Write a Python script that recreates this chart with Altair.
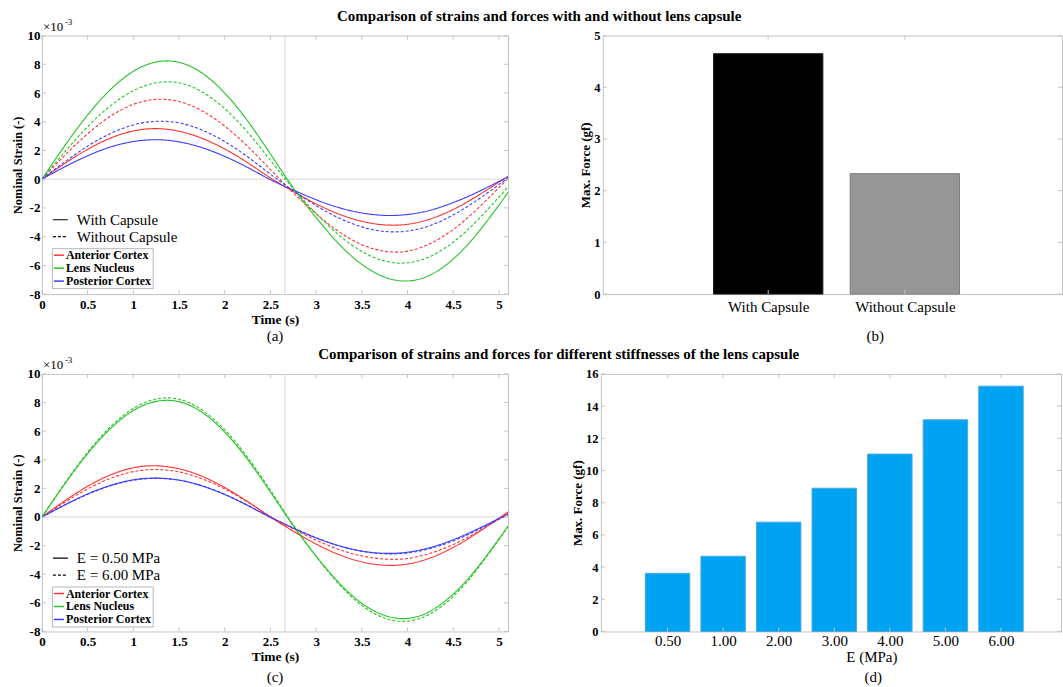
import json
import altair as alt
import pandas as pd

FONT = "Liberation Serif"
AXC = "#c4c4c4"   # box / inner tick colour
REFC = "#d6d6d6"  # reference lines

# ---------------- data ----------------
T = [0, 0.25, 0.5, 0.75, 1.0, 1.25, 1.5, 1.75, 2.0, 2.25, 2.5, 2.75,
     3.0, 3.25, 3.5, 3.75, 4.0, 4.25, 4.5, 4.75, 5.0, 5.1]

REGIONS = ["Anterior Cortex", "Lens Nucleus", "Posterior Cortex"]
REGION_COLORS = ["#ff3030", "#22c422", "#3b3bff"]

# panel (a): with / without capsule  (values in 1e-3)
A_CASES = ["With Capsule", "Without Capsule"]
a_ant_with = [0, 1.10, 2.08, 2.86, 3.36, 3.52, 3.34, 2.85, 2.10, 1.15, 0.09, -0.86,
              -1.72, -2.43, -2.93, -3.18, -3.14, -2.77, -2.11, -1.22, -0.21, 0.21]
a_nuc_with = [0, 2.33, 4.47, 6.24, 7.51, 8.16, 8.14, 7.40, 6.00, 4.06, 1.76, -0.60,
              -2.67, -4.51, -5.93, -6.82, -7.09, -6.67, -5.56, -3.88, -1.81, -0.91]
a_post_with = [0, 0.86, 1.63, 2.24, 2.62, 2.75, 2.60, 2.20, 1.59, 0.82, -0.03, -0.76,
               -1.43, -1.98, -2.35, -2.52, -2.46, -2.16, -1.63, -0.95, -0.16, 0.16]
a_ant_without = [0, 1.66, 3.16, 4.39, 5.21, 5.56, 5.41, 4.77, 3.69, 2.29, 0.67, -0.94,
                 -2.41, -3.66, -4.56, -5.02, -5.01, -4.48, -3.50, -2.15, -0.59, 0.07]
a_nuc_without = [0, 1.90, 3.65, 5.11, 6.16, 6.71, 6.71, 6.09, 4.91, 3.27, 1.32, -0.65,
                 -2.38, -3.89, -5.03, -5.70, -5.82, -5.37, -4.38, -2.96, -1.25, -0.52]
a_post_without = [0, 1.20, 2.30, 3.18, 3.78, 4.03, 3.92, 3.43, 2.62, 1.56, 0.35, -0.80,
                  -1.84, -2.70, -3.32, -3.64, -3.61, -3.22, -2.49, -1.51, -0.38, 0.09]

# panel (c): E = 0.50 MPa / E = 6.00 MPa
C_CASES = ["E = 0.50 MPa", "E = 6.00 MPa"]
c_ant_050 = [0, 1.13, 2.15, 2.94, 3.44, 3.58, 3.37, 2.85, 2.06, 1.08, 0.00, -0.99,
             -1.89, -2.63, -3.14, -3.37, -3.29, -2.86, -2.13, -1.17, -0.09, 0.35]
c_nuc_050 = [0, 2.31, 4.43, 6.18, 7.44, 8.08, 8.06, 7.33, 5.94, 4.02, 1.75, -0.61,
             -2.74, -4.60, -6.03, -6.88, -7.09, -6.58, -5.39, -3.66, -1.54, -0.64]
c_post_050 = [0, 0.85, 1.61, 2.21, 2.60, 2.72, 2.58, 2.18, 1.57, 0.81, -0.03, -0.78,
              -1.46, -2.01, -2.38, -2.54, -2.46, -2.13, -1.59, -0.89, -0.10, 0.23]
c_ant_600 = [0, 1.03, 1.96, 2.70, 3.17, 3.32, 3.15, 2.68, 1.96, 1.05, 0.04, -0.83,
             -1.62, -2.27, -2.72, -2.94, -2.90, -2.54, -1.92, -1.10, -0.15, 0.23]
c_nuc_600 = [0, 2.35, 4.52, 6.31, 7.59, 8.25, 8.23, 7.49, 6.10, 4.17, 1.87, -0.55,
             -2.75, -4.69, -6.18, -7.07, -7.28, -6.76, -5.55, -3.76, -1.58, -0.66]
c_post_600 = [0, 0.83, 1.59, 2.18, 2.57, 2.70, 2.57, 2.18, 1.59, 0.83, 0.00, -0.76,
              -1.45, -2.01, -2.40, -2.57, -2.51, -2.20, -1.67, -0.96, -0.16, 0.16]

REF_T = [2.66]
REF_V = [0]
T_TICKS = [0, 0.5, 1, 1.5, 2, 2.5, 3, 3.5, 4, 4.5, 5]
V_TICKS = [-8, -6, -4, -2, 0, 2, 4, 6, 8, 10]

# panel (b)
B_LABELS = ["With Capsule", "Without Capsule"]
B_VALUES = [4.65, 2.33]
B_COLORS = ["#000000", "#969696"]
B_EDGES = ["#1a1a1a", "#7c7c7c"]
B_TICKS = [0, 1, 2, 3, 4, 5]

# panel (d)
D_LABELS = ["0.50", "1.00", "2.00", "3.00", "4.00", "5.00", "6.00"]
D_VALUES = [3.61, 4.67, 6.79, 8.90, 11.02, 13.15, 15.24]
D_TICKS = [0, 2, 4, 6, 8, 10, 12, 14, 16]

TITLE1 = "Comparison of strains and forces with and without lens capsule"
TITLE2 = "Comparison of strains and forces for different stiffnesses of the lens capsule"

# ---------------- helpers ----------------
NOAX = dict(domain=False, ticks=False, grid=False)


def txt(s, x, y, size=15, weight="normal", align="center", baseline="middle"):
    return alt.Chart(pd.DataFrame({"s": [s]})).mark_text(
        font=FONT, fontSize=size, fontWeight=weight, align=align,
        baseline=baseline, color="black"
    ).encode(x=alt.value(x), y=alt.value(y), text="s:N")


def inner_ticks(xvals, yvals, xs, ys, xax, yax, W, H, L=4):
    dx = pd.DataFrame({"xt": xvals})
    dy = pd.DataFrame({"yt": yvals})
    out = []
    for a, b in [(0, L), (H, H - L)]:
        out.append(alt.Chart(dx).mark_rule(color=AXC, strokeWidth=1).encode(
            x=alt.X("xt:Q", scale=xs, axis=xax), y=alt.value(a), y2=alt.value(b)))
    for a, b in [(0, L), (W, W - L)]:
        out.append(alt.Chart(dy).mark_rule(color=AXC, strokeWidth=1).encode(
            y=alt.Y("yt:Q", scale=ys, axis=yax), x=alt.value(a), x2=alt.value(b)))
    return out


def line_panel(series, cases, letter, W, H, letter_rel):
    rows = []
    for region, case, vals in series:
        for t, v in zip(T, vals):
            rows.append({"t": t, "v": v, "region": region, "case": case})
    df = pd.DataFrame(rows)
    xs = alt.Scale(domain=[0, 5.1], nice=False, zero=False)
    ys = alt.Scale(domain=[-8, 10], nice=False, zero=False)
    xax = alt.Axis(
        values=T_TICKS, labelExpr="datum.value + ''", labelFont=FONT, labelFontSize=13,
        labelFontWeight="bold", labelColor="black", labelPadding=4, labelOverlap=False,
        labelFlush=False, title="Time (s)", titleFont=FONT, titleFontSize=13.5,
        titleFontWeight="bold", titleColor="black", titlePadding=1, **NOAX)
    yax = alt.Axis(
        values=V_TICKS, labelExpr="datum.value + ''", labelFont=FONT, labelFontSize=13,
        labelFontWeight="bold", labelColor="black", labelPadding=2, labelOverlap=False,
        labelFlush=False, title="Nominal Strain (-)", titleFont=FONT, titleFontSize=12.5,
        titleFontWeight="bold", titleColor="black", titlePadding=2, **NOAX)
    refx = alt.Chart(pd.DataFrame({"t": REF_T})).mark_rule(color=REFC, strokeWidth=1).encode(
        x=alt.X("t:Q", scale=xs, axis=xax))
    refy = alt.Chart(pd.DataFrame({"v": REF_V})).mark_rule(color=REFC, strokeWidth=1).encode(
        y=alt.Y("v:Q", scale=ys, axis=yax))
    lines = alt.Chart(df).mark_line(strokeWidth=1.1, interpolate="natural", clip=True).encode(
        x=alt.X("t:Q", scale=xs, axis=xax),
        y=alt.Y("v:Q", scale=ys, axis=yax),
        color=alt.Color("region:N", scale=alt.Scale(domain=REGIONS, range=REGION_COLORS),
                        legend=alt.Legend(
                            orient="none", legendX=10, legendY=213, title=None,
                            labelFont=FONT, labelFontSize=12, labelFontWeight="bold",
                            labelColor="black", symbolType="stroke", symbolSize=100,
                            symbolStrokeWidth=1.5, labelOffset=1, rowPadding=1,
                            padding=1, strokeColor="#b8b8b8", fillColor="white")),
        strokeDash=alt.StrokeDash("case:N", scale=alt.Scale(domain=cases, range=[[1, 0], [3, 2]]),
                                  legend=alt.Legend(
                                      orient="none", legendX=10, legendY=176, title=None,
                                      labelFont=FONT, labelFontSize=15, labelColor="black",
                                      symbolType="stroke", symbolSize=225,
                                      symbolStrokeColor="black", symbolStrokeWidth=1.2,
                                      labelOffset=8, rowPadding=-2, padding=0)),
    )
    layers = [refx, refy, lines] + inner_ticks(T_TICKS, V_TICKS, xs, ys, xax, yax, W, H)
    layers += [txt("\u00d710", 1, -9, size=13, align="left"),
               txt("-3", 23, -14, size=9, align="left"),
               txt(letter, W / 2, H + letter_rel, size=15)]
    return alt.layer(*layers).properties(width=W, height=H)


def bar_panel(labels, values, colors, edges, yticks, ytitle, xdom, letter, W, H,
              xtitle=None, label_pad=5, letter_rel=42):
    n = len(labels)
    pos = list(range(1, n + 1))
    df = pd.DataFrame({"pos": pos, "label": labels, "value": values})
    xs = alt.Scale(domain=xdom, nice=False, zero=False)
    ys = alt.Scale(domain=[yticks[0], yticks[-1]], nice=False, zero=False)
    lab_expr = "[''," + ",".join(json.dumps(l) for l in labels) + "][datum.value]"
    xaxis = dict(values=pos, labelExpr=lab_expr, labelFont=FONT, labelFontSize=15,
                 labelColor="black", labelPadding=label_pad, labelOverlap=False,
                 labelFlush=False, **NOAX)
    if xtitle:
        xaxis.update(title=xtitle, titleFont=FONT, titleFontSize=15, titleFontWeight="normal",
                     titleColor="black", titlePadding=1, titleX=271)
    else:
        xaxis.update(title=None)
    xax = alt.Axis(**xaxis)
    yax = alt.Axis(
        values=yticks, labelExpr="datum.value + ''", labelFont=FONT, labelFontSize=12.5,
        labelFontWeight="bold", labelColor="black", labelPadding=3, labelOverlap=False,
        labelFlush=False, title=ytitle, titleFont=FONT, titleFontSize=13,
        titleFontWeight="bold", titleColor="black", titlePadding=1, **NOAX)
    bars = alt.Chart(df).transform_calculate(
        x0="datum.pos - 0.4", x1="datum.pos + 0.4"
    ).mark_bar(strokeWidth=1).encode(
        x=alt.X("x0:Q", scale=xs, axis=xax),
        x2="x1:Q",
        y=alt.Y("value:Q", scale=ys, axis=yax),
        y2=alt.datum(0),
        color=alt.Color("label:N", scale=alt.Scale(domain=labels, range=colors), legend=None),
        stroke=alt.Stroke("label:N", scale=alt.Scale(domain=labels, range=edges), legend=None),
    )
    layers = [bars] + inner_ticks(pos, yticks, xs, ys, xax, yax, W, H)
    layers += [txt(letter, 273, H + letter_rel, size=15)]
    return alt.layer(*layers).properties(width=W, height=H)


# ---------------- panels ----------------
H1, H2 = 259, 258
WL, WR = 467, 460

pa = line_panel([
    ("Anterior Cortex", "With Capsule", a_ant_with),
    ("Lens Nucleus", "With Capsule", a_nuc_with),
    ("Posterior Cortex", "With Capsule", a_post_with),
    ("Anterior Cortex", "Without Capsule", a_ant_without),
    ("Lens Nucleus", "Without Capsule", a_nuc_without),
    ("Posterior Cortex", "Without Capsule", a_post_without),
], A_CASES, "(a)", WL, H1, 42)

pc = line_panel([
    ("Anterior Cortex", "E = 0.50 MPa", c_ant_050),
    ("Lens Nucleus", "E = 0.50 MPa", c_nuc_050),
    ("Posterior Cortex", "E = 0.50 MPa", c_post_050),
    ("Anterior Cortex", "E = 6.00 MPa", c_ant_600),
    ("Lens Nucleus", "E = 6.00 MPa", c_nuc_600),
    ("Posterior Cortex", "E = 6.00 MPa", c_post_600),
], C_CASES, "(c)", WL, H2, 46)

pb = bar_panel(B_LABELS, B_VALUES, B_COLORS, B_EDGES, B_TICKS, "Max. Force (gf)",
               [-0.21, 3.15], "(b)", WR, H1, label_pad=5, letter_rel=42)
pd_ = bar_panel(D_LABELS, D_VALUES, ["#00a3f2"] * 7, ["#4aa9dd"] * 7, D_TICKS,
                "Max. Force (gf)", [-0.2, 8.08], "(d)", WR + 1, H2,
                xtitle="E (MPa)", label_pad=2, letter_rel=46)

row1 = alt.hconcat(pa, pb, spacing=70, title=alt.Title(
    TITLE1, font=FONT, fontSize=15, fontWeight="bold", color="black",
    anchor="middle", offset=-7, dx=2)).resolve_scale(
    color="independent", strokeDash="independent", stroke="independent")
row2 = alt.hconcat(pc, pd_, spacing=62, title=alt.Title(
    TITLE2, font=FONT, fontSize=15, fontWeight="bold", color="black",
    anchor="middle", offset=-7, dx=22)).resolve_scale(
    color="independent", strokeDash="independent", stroke="independent")

chart = alt.vconcat(row1, row2, spacing=2).resolve_scale(
    color="independent", strokeDash="independent", stroke="independent"
).properties(
    padding={"left": 11, "top": 8, "right": 0, "bottom": 0}, background="white"
).configure_view(stroke=AXC, strokeWidth=1)

chart.save("out.html", embed_options={"renderer": "svg", "actions": False})
